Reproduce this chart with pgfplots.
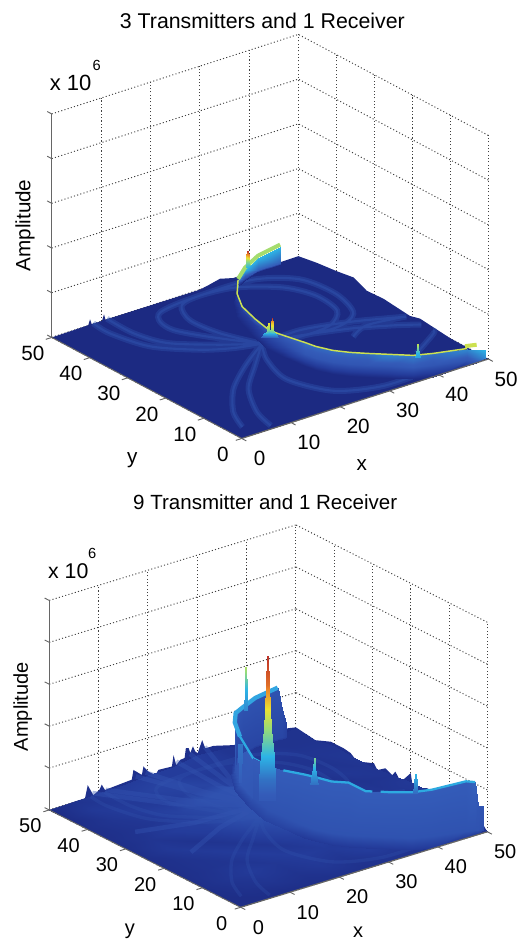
\documentclass[border=0pt]{standalone}
\usepackage{fontspec}
\setmainfont{Liberation Sans}
\usepackage{pgfplots}
\usepackage{pgfplotstable}
\pgfplotsset{compat=1.18}
\pgfplotstableread{
x y z
8.4 50 0.02
8.1 45.2 0.02
10.1 37.2 0.02
15.6 31.2 0.02
20.2 28.4 0.02
24.8 26.9 0.02
nan nan nan
11.2 50 0.02
11.1 42.9 0.02
13 36.6 0.02
18.9 31.1 0.02
24.8 26.9 0.02
nan nan nan
24.8 26.9 0.02
22 34.3 0.02
21.3 41.3 0.02
23.8 46.7 0.02
28.4 47.9 0.02
35 46.8 0.02
40.9 42.1 0.02
43.1 36.3 0.02
42.2 29.7 0.02
37.8 25.8 0.02
31.3 25.3 0.02
24.8 26.9 0.02
nan nan nan
24.8 26.9 0.02
19.6 34.6 0.02
16.9 39.9 0.02
17.2 43.8 0.02
19.5 46.7 0.02
25.9 47.8 0.02
38.6 47.6 0.02
44.9 43 0.02
46 34.8 0.02
43.5 27.1 0.02
37.5 24.5 0.02
24.8 26.9 0.02
nan nan nan
24.8 26.9 0.02
32.9 27.3 0.02
41.1 24.9 0.02
46.1 22.6 0.02
49.5 20.9 0.02
nan nan nan
24.8 26.9 0.02
30.5 26 0.02
39.6 22.8 0.02
45.8 19.5 0.02
49.5 17 0.02
nan nan nan
38 20 0.02
42.4 22.2 0.02
49.5 21 0.02
nan nan nan
42.1 8.6 0.02
48.9 13 0.02
49.5 14 0.02
nan nan nan
24.8 26.9 0.02
17.4 21.7 0.02
10.5 15.8 0.02
5 8.7 0.02
2.6 3.2 0.02
nan nan nan
24.8 26.9 0.02
18.6 20.7 0.02
12.4 14.3 0.02
8 6.4 0.02
6.5 0.8 0.02
nan nan nan
24.8 26.9 0.02
21.7 21.6 0.02
19.5 13.5 0.02
22.7 5.3 0.02
30.1 1.85 0.02
40.3 1.9 0.02
47 0.8 0.02
}\arcs
\pgfplotsset{
 colormap={ja}{rgb255(0cm)=(28,42,130); rgb255(1cm)=(36,60,155); rgb255(3cm)=(52,92,185); rgb255(5cm)=(45,180,230); rgb255(7cm)=(150,220,120); rgb255(9cm)=(235,225,50); rgb255(12cm)=(235,130,40); rgb255(14cm)=(190,50,40)},
 chart/.style={
  anchor=origin, colormap name=ja, point meta min=0, point meta max=14,
  xmin=0,xmax=50,ymin=0,ymax=50,zmin=0,zmax=5,
  xtick={0,10,20,30,40,50}, ytick={0,10,20,30,40,50}, ztick={0,1,2,3,4,5}, zticklabels={},
  grid=major, major grid style={black!75, line width=0.7pt, dash pattern=on 0.8pt off 1.7pt},
  axis line style={draw=none},
  tick style={draw=none},
  clip=false,
  /pgf/number format/assume math mode=true,
  xticklabel style={anchor=center,xshift=13.4pt,yshift=-15pt},
  yticklabel style={anchor=center,xshift=-14.2pt,yshift=-12pt},
 },
 wall/.style={surf, shader=interp, mesh/rows=3, point meta=explicit, z buffer=none},
 spike/.style={surf, shader=interp, mesh/cols=2, point meta=explicit, z buffer=none},
}
\newcommand\axisframe{%
\draw[black!60,line width=1.1pt] (axis cs:0,50,0) -- (axis cs:0,50,5);
\draw[black!60,line width=0.9pt] (axis cs:0,0,0) -- (axis cs:50,0,0);
\draw[black!60,line width=0.7pt] (axis cs:0,0,0) -- (axis cs:0,50,0);
\pgfplotsinvokeforeach{0,10,20,30,40,50}{
 \draw[black!60,line width=0.7pt] (axis cs:##1,0,0) -- (axis cs:##1,-1.2,0);
 \draw[black!60,line width=0.7pt] (axis cs:0,##1,0) -- (axis cs:-1.2,##1,0);}
\pgfplotsinvokeforeach{0,1,2,3,4,5}{
 \draw[black!60,line width=0.7pt] (axis cs:0,50,##1) -- (axis cs:0,51.2,##1);}
}
\begin{document}
\begin{tikzpicture}
\path[use as bounding box] (0,0) rectangle (390pt,705.75pt);
%% ---------- first chart
\begin{axis}[chart, at={(181.3pt,376.9pt)},
 x={(3.699pt,1.1925pt)}, y={(-2.85pt,1.515pt)}, z={(0pt,33.53pt)},
 tick label style={font=\fontsize{15.5}{18}\selectfont},
 title={3 Transmitters and 1 Receiver},
 title style={at={(axis cs:50,50,5)},anchor=center,xshift=-27pt,yshift=4pt,font=\fontsize{16}{19}\selectfont},
 xlabel={x}, xlabel style={at={(axis cs:0,0,0)},anchor=center,xshift=90pt,yshift=-20pt,font=\fontsize{15.5}{18}\selectfont},
 ylabel={y}, ylabel style={at={(axis cs:0,0,0)},anchor=center,xshift=-82pt,yshift=-16pt,font=\fontsize{15.5}{18}\selectfont},
 zlabel={Amplitude}, zlabel style={at={(axis cs:0,50,0)},anchor=center,xshift=84pt,yshift=20pt,font=\fontsize{15.5}{18}\selectfont},
]
\addplot3[draw=none, fill={rgb,255:red,28;green,42;blue,130}] coordinates {
(0,0,0) (50,0,0) (50,10,0.01) (50,18,0.09) (50,20.6,0.03) (50,27.6,0.1) (50,32,0.08) (50,35.5,0.22) (50,39.9,0.16) (50,45.2,0.11) (50,50,0.04)
(36.8,50,0.02) (34.1,50,0.1) (31.8,50,0.04) (30,50,0) (10.9,50,0.01) (10.6,50,0.14) (10.2,50,0.01) (8.1,50,0.01) (7.77,50,0.13) (7.4,50,0.01) (0,50,0) (0,0,0)};
\addplot3[smooth, unbounded coords=jump, no marks, line width=4.5pt, opacity=0.35, color={rgb,255:red,50;green,90;blue,180}] table[x=x,y=y,z=z]{\arcs};
\addplot3[smooth, unbounded coords=jump, no marks, line width=1.6pt, opacity=0.4, color={rgb,255:red,50;green,90;blue,180}] table[x=x,y=y,z=z]{\arcs};
\addplot3[wall] table[x=x,y=y,z=z,meta=c]{
x y z c
47.5 0 0 0
44.1 0 0 0
38.7 0 0 0
35.7 1.2 0 0
33 3.8 0 0
30.4 6.4 0 0
28.4 8.4 0 0
26.8 10.7 0 0
25.6 13.6 0 0
25.1 15.9 0 0
24.7 21.5 0 0
24.5 25.5 0 0
26 31.5 0 0
28 37.5 0 0
31 42.5 0 0
35 47 0 0
38 48.5 0 0
41.5 49.8 0 0
46 49.8 0 0
49.66 0.42 0.02 4
46.93 1.61 0.02 2.6
41.47 3.48 0.02 2.6
38.48 4.87 0.02 2.8
35.82 7.45 0.02 2.6
33.15 10.04 0.02 2.6
31.24 12.04 0.02 2.6
29.56 14.34 0.02 2.6
28.35 17.24 0.02 2.6
27.9 19.55 0.02 2.6
27.48 24.26 0.02 2
27.22 27.87 0.02 1.6
28.37 33.31 0.02 1
30 38.84 0.02 1
32.64 43.59 0.02 1
36.03 47.73 0.02 1
38.3 48.85 0.02 2
41.8 50 0.02 3
46.3 50 0.02 3
49.66 0.42 0.2 5
46.93 1.61 0.27 4
41.47 3.48 0.27 3.5
38.48 4.87 0.27 3.8
35.82 7.45 0.27 4
33.15 10.04 0.27 3.4
31.24 12.04 0.27 3.4
29.56 14.34 0.27 3.4
28.35 17.24 0.27 3.4
27.9 19.55 0.27 3.4
27.48 24.26 0.22 3
27.22 27.87 0.18 3
28.37 33.31 0.16 3
30 38.84 0.13 3
32.64 43.59 0.11 3
36.03 47.73 0.11 4
38.3 48.85 0.2 5
41.8 50 0.29 5
46.3 50 0.38 5
};
\addplot3[no marks, line width=1.1pt, color={rgb,255:red,205;green,225;blue,80}] coordinates {
(46.93,1.61,0.27) (41.47,3.48,0.27) (38.48,4.87,0.27) (35.82,7.45,0.27) (33.15,10.04,0.27) (31.24,12.04,0.27) (29.56,14.34,0.27) (28.35,17.24,0.27) (27.9,19.55,0.27) (27.48,24.26,0.22) (27.22,27.87,0.18) (28.37,33.31,0.16) (30,38.84,0.13) (32.64,43.59,0.11) (36.03,47.73,0.11)};
\addplot3[no marks, line width=3pt, color={rgb,255:red,165;green,220;blue,110}] coordinates {
(36.03,47.73,0.13) (38.3,48.85,0.25) (41.8,50,0.34) (46.3,50,0.43)};
\addplot3[no marks, line width=3pt, color={rgb,255:red,205;green,225;blue,80}] coordinates {(46.6,1.7,0.33) (48.4,1,0.33)};
\addplot3[spike] table[x=x,y=y,z=z,meta=c]{
x y z c
39.0 49.5 0.2 5
39.4 49.2 0.2 5
39.05 49.45 0.35 7
39.35 49.25 0.35 7
39.05 49.45 0.45 10
39.35 49.25 0.45 11
39.15 49.4 0.57 14
39.25 49.3 0.57 14
};
\addplot3[spike] table[x=x,y=y,z=z,meta=c]{
x y z c
26.1 28.8 0.03 3
28.3 27 0.03 3
26.5 28.45 0.12 5
27.9 27.35 0.12 5
};
\addplot3[spike] table[x=x,y=y,z=z,meta=c]{
x y z c
26.7 28.25 0.12 5
27.3 27.85 0.12 5
26.85 28.15 0.25 7.5
27.15 27.95 0.25 7.5
26.95 28.08 0.36 9
27.05 28 0.36 9
};
\addplot3[spike] table[x=x,y=y,z=z,meta=c]{
x y z c
27.15 27.95 0.12 5
27.75 27.45 0.12 5
27.3 27.8 0.25 8
27.6 27.6 0.25 8
27.35 27.75 0.36 10
27.55 27.65 0.36 10
27.42 27.7 0.46 14
27.48 27.65 0.46 14
};
\addplot3[spike] table[x=x,y=y,z=z,meta=c]{
x y z c
38.85 4.9 0.2 4.5
39.55 4.3 0.2 4.5
39 4.75 0.3 5
39.4 4.45 0.3 5
39.1 4.7 0.42 6.5
39.3 4.5 0.42 6.5
39.16 4.63 0.5 8
39.24 4.57 0.5 8
};
\axisframe
\end{axis}
\node[font=\fontsize{16.5}{18}\selectfont] at (53pt,643.2pt) {x 10};
\node[font=\fontsize{11}{13}\selectfont] at (72.5pt,657pt) {6};
%% ---------- second chart
\begin{axis}[chart, at={(180.5pt,25.3pt)},
 x={(3.699pt,1.1325pt)}, y={(-2.871pt,1.4595pt)}, z={(0pt,31.43pt)},
 tick label style={font=\fontsize{15}{18}\selectfont},
 title={9 Transmitter and 1 Receiver},
 title style={at={(axis cs:50,50,5)},anchor=center,xshift=-23pt,yshift=11pt,font=\fontsize{15.4}{19}\selectfont},
 xlabel={x}, xlabel style={at={(axis cs:0,0,0)},anchor=center,xshift=88pt,yshift=-18.5pt,font=\fontsize{15}{18}\selectfont},
 ylabel={y}, ylabel style={at={(axis cs:0,0,0)},anchor=center,xshift=-83pt,yshift=-18pt,font=\fontsize{15}{18}\selectfont},
 zlabel={Amplitude}, zlabel style={at={(axis cs:0,50,0)},anchor=center,xshift=77.5pt,yshift=20pt,font=\fontsize{15}{18}\selectfont},
]
\addplot3[draw=none, fill={rgb,255:red,30;green,48;blue,140}] coordinates {
(0,0,0) (50,0,0) (50,0.9,0.1) (50,3,0.3) (50,10,0.3) (50,15.7,0.31) (50,17.9,0.21) (50,19.6,0.25) (50,20,0.47) (50,22.6,0.14) (50,24,0.32) (50,24.8,0.2) (50,26.6,0.28) (50,28.7,0.14) (50,29.6,0.26) (50,34,0.1) (50,35.7,0.22) (50,37.5,0.25) (50,40.9,0.25) (50,44.9,0.1) (50,50,0.17)
(48.2,50,0.21) (37.4,50,0.2) (33.3,50,0.33) (31.64,50,0.33) (31,50,0.55) (30.1,50,0.27) (29.6,50,0.33) (29.13,50,0.47) (28.6,50,0.33) (28.25,50,0.46) (27.7,50,0.48) (27.44,50,0.25) (26.56,50,0.24) (25.75,50,0.14) (25.2,50,0.4) (24.86,50,0.14) (22.15,50,0.16) (21.5,50,0.06) (20.1,50,0.19) (19.1,50,0.35) (18.77,50,0.16) (17.07,50,0.34) (16.73,50,0.12) (11.3,50,0.07) (10.64,50,0.22) (10.16,50,0.11) (8.94,50,0.03) (7.8,50,0.31) (7.25,50,0.02) (0,50,0) (0,0,0)};
\addplot3[surf, shader=interp, mesh/rows=11, point meta=explicit] table[x=x,y=y,z=z,meta=c]{
x y z c
0 0 0.02 0.2
0 5 0.02 0.2
0 10 0.02 0.3
0 15 0.02 0.3
0 20 0.02 0.3
0 25 0.02 0.3
0 30 0.02 0.3
0 35 0.02 0.3
0 40 0.02 0.3
0 45 0.02 0.2
0 50 0.01 0.1
5 0 0.03 0.2
5 5 0.03 0.4
5 10 0.03 0.6
5 15 0.04 0.5
5 20 0.04 0.5
5 25 0.05 0.8
5 30 0.05 0.6
5 35 0.04 0.5
5 40 0.04 0.6
5 45 0.04 0.8
5 50 0.01 0.5
10 0 0.03 0.2
10 5 0.04 0.6
10 10 0.05 0.9
10 15 0.05 0.6
10 20 0.06 0.9
10 25 0.05 0.5
10 30 0.06 1
10 35 0.06 0.7
10 40 0.07 1
10 45 0.07 0.8
10 50 0.05 0.9
15 0 0.03 0.3
15 5 0.04 0.5
15 10 0.05 0.7
15 15 0.06 1
15 20 0.06 0.6
15 25 0.07 1
15 30 0.09 1.2
15 35 0.1 1.4
15 40 0.08 0.9
15 45 0.09 1.3
15 50 0.05 0.9
20 0 0.03 0.4
20 5 0.05 0.8
20 10 0.06 1
20 15 0.06 0.7
20 20 0.08 1.2
20 25 0.25 2.2
20 30 0.25 2
20 35 0.25 2.2
20 40 0.12 1.2
20 45 0.14 1.5
20 50 0.12 1
25 0 0.03 0.4
25 5 0.05 0.6
25 10 0.06 0.9
25 15 0.08 1.2
25 20 0.35 2.4
25 25 0.35 2.5
25 30 0.35 2.4
25 35 0.35 2.4
25 40 0.16 1.5
25 45 0.14 1
25 50 0.12 1
30 0 0.04 0.5
30 5 0.06 1
30 10 0.08 0.8
30 15 0.14 1.3
30 20 0.16 1
30 25 0.18 1.1
30 30 0.18 0.8
30 35 0.18 0.9
30 40 0.2 0.7
30 45 0.2 0.9
30 50 0.22 1
35 0 0.04 0.5
35 5 0.08 0.9
35 10 0.16 1.2
35 15 0.2 0.9
35 20 0.2 0.6
35 25 0.2 0.5
35 30 0.2 0.6
35 35 0.2 0.4
35 40 0.2 0.7
35 45 0.2 0.6
35 50 0.2 0.6
40 0 0.04 0.6
40 5 0.14 1
40 10 0.22 1.2
40 15 0.24 0.6
40 20 0.24 0.5
40 25 0.22 0.7
40 30 0.2 0.4
40 35 0.2 0.6
40 40 0.2 0.5
40 45 0.18 0.7
40 50 0.15 0.5
45 0 0.04 0.7
45 5 0.18 1.3
45 10 0.24 0.7
45 15 0.26 0.7
45 20 0.26 0.6
45 25 0.22 0.5
45 30 0.18 0.7
45 35 0.18 0.5
45 40 0.2 0.6
45 45 0.12 0.5
45 50 0.1 0.5
50 0 0.03 0.5
50 5 0.1 0.9
50 10 0.25 0.8
50 15 0.25 0.7
50 20 0.25 0.8
50 25 0.2 0.6
50 30 0.15 0.6
50 35 0.15 0.7
50 40 0.2 0.6
50 45 0.1 0.5
50 50 0.15 0.5
};
\addplot3[smooth, unbounded coords=jump, no marks, line width=2.5pt, opacity=0.28, color={rgb,255:red,50;green,85;blue,175}] table[x=x,y=y,z=z]{\arcs};
% streaks rising towards the far edge
\addplot3[unbounded coords=jump, no marks, line width=3.4pt, opacity=0.4, color={rgb,255:red,52;green,85;blue,178}] coordinates {
(24.8,26.9,0.3) (16,38,0.12) (8.2,49.3,0.14) (nan,nan,nan)
(24.8,26.9,0.3) (18,38,0.14) (10.9,49.3,0.12) (nan,nan,nan)
(24.8,26.9,0.3) (21,38,0.2) (17,49.3,0.22) (nan,nan,nan)
(24.8,26.9,0.3) (22,38,0.2) (19,49.3,0.24) (nan,nan,nan)
(24.8,26.9,0.3) (25,38,0.24) (25.2,49.3,0.28) (nan,nan,nan)
(24.8,26.9,0.3) (26.5,38,0.3) (28,49.3,0.36) (nan,nan,nan)
(24.8,26.9,0.3) (27.5,38,0.3) (31,49.3,0.42) (nan,nan,nan)
(24.8,26.9,0.3) (14,30,0.12) (5,34,0.04) (nan,nan,nan)
(24.8,26.9,0.3) (16,26,0.12) (7,22,0.04)
};
% far part of the ridge wall
\addplot3[wall] table[x=x,y=y,z=z,meta=c]{
x y z c
24.5 25.5 0.02 1.2
26 31.5 0.02 1.2
28 37.5 0.02 1.2
31 42.5 0.02 1.2
35 47 0.02 1
38 48.5 0.02 1
41.5 49.8 0.02 1
46 49.8 0.02 1
47 49.8 0.02 1
48 49.8 0.02 1
27.22 27.87 0.05 2.2
28.37 33.31 0.05 2.6
30 38.84 0.05 2.8
32.64 43.59 0.05 2.4
36.03 47.73 0.05 1.6
38.3 48.85 0.05 1.6
41.8 50 0.05 1.6
46.3 50 0.05 1.6
47.2 50 0.05 1.6
48.2 50 0.05 1.2
27.22 27.87 1.09 3
28.37 33.31 0.99 3
30 38.84 1.19 3
32.64 43.59 1.21 3
36.03 47.73 1.12 2.6
38.3 48.85 1.12 2.4
41.8 50 1.17 2.4
46.3 50 1.25 2.4
47.2 50 0.7 2
48.2 50 0.25 1.2
};
\addplot3[no marks, line width=1.7pt, color={rgb,255:red,45;green,170;blue,225}] coordinates {
(27.22,27.87,1.09) (28.37,33.31,0.99) (30,38.84,1.19)};
\addplot3[no marks, line width=3.2pt, color={rgb,255:red,50;green,165;blue,225}] coordinates {
(30,38.84,1.19) (32.64,43.59,1.21) (36.03,47.73,1.12) (38.3,48.85,1.12) (41.8,50,1.17) (46.3,50,1.25)};
\addplot3[spike] table[x=x,y=y,z=z,meta=c]{
x y z c
38.95 49.4 1 4
39.45 49 1 4
39.1 49.3 1.5 5
39.3 49.1 1.5 5
39.17 49.22 2.03 7.5
39.23 49.18 2.03 7.5
};
% near part of the ridge wall
\addplot3[wall] table[x=x,y=y,z=z,meta=c]{
x y z c
47.5 0 0.02 0.8
47.5 0 0.02 0.8
47.5 0 0.02 0.8
44.1 0 0.02 0.8
38.7 0 0.02 0.8
35.7 1.2 0.02 0.8
33 3.8 0.02 0.8
30.4 6.4 0.02 0.8
28.4 8.4 0.02 0.8
26.8 10.7 0.02 0.8
25.6 13.6 0.02 0.8
25.1 15.9 0.02 0.8
24.7 21.5 0.02 1.4
24.5 25.5 0.02 1.4
26 31.5 0.02 1.4
49.66 0.42 0.05 2
48.7 0.8 0.05 2.4
48.3 1 0.05 2.4
46.93 1.61 0.05 2.4
41.47 3.48 0.05 2.4
38.48 4.87 0.05 2.4
35.82 7.45 0.05 2.4
33.15 10.04 0.05 2.4
31.24 12.04 0.05 2.4
29.56 14.34 0.05 2.4
28.35 17.24 0.05 2.4
27.9 19.55 0.05 2.4
27.48 24.26 0.05 2.4
27.22 27.87 0.05 2.4
28.37 33.31 0.05 2.4
49.66 0.42 0.6 2.4
48.7 0.8 0.65 2.6
48.3 1 1.2 3.2
46.93 1.61 1.24 3
41.47 3.48 1.15 3
38.48 4.87 1.13 3
35.82 7.45 1.11 3
33.15 10.04 1.11 3
31.24 12.04 1.29 3
29.56 14.34 1.27 3
28.35 17.24 1.29 3
27.9 19.55 1.26 3
27.48 24.26 1.15 3
27.22 27.87 1.09 3
28.37 33.31 0.99 3
};
\addplot3[unbounded coords=jump, no marks, line width=1.7pt, color={rgb,255:red,45;green,170;blue,225}] coordinates {
(48.3,1,1.2) (46.93,1.61,1.24) (41.47,3.48,1.15) (38.48,4.87,1.13) (35.82,7.45,1.11) (34.9,8.4,1.11) (nan,nan,nan) (33.9,9.3,1.11) (33.15,10.04,1.11) (31.24,12.04,1.29) (29.56,14.34,1.27) (28.35,17.24,1.29) (27.9,19.55,1.26) (27.48,24.26,1.15)};
\addplot3[spike] table[x=x,y=y,z=z,meta=c]{
x y z c
29.9 39 0.1 3
30.2 38.7 0.1 3
29.8 39.1 1 3.6
30.3 38.6 1 3.6
};
\addplot3[spike] table[x=x,y=y,z=z,meta=c]{
x y z c
25.8 28.55 0.3 2.8
28 26.85 0.3 2.8
25.9 28.5 0.8 3.5
27.9 26.9 0.8 3.5
26.1 28.35 1.36 5
27.7 27.05 1.36 5
26.5 28.02 2 7
27.3 27.38 2 7
26.62 27.92 2.48 9
27.18 27.48 2.48 9
26.73 27.84 3.04 12.5
27.07 27.56 3.04 12.5
26.86 27.73 3.74 14
26.94 27.67 3.74 14
};
\addplot3[spike] table[x=x,y=y,z=z,meta=c]{
x y z c
27.8 17.7 1.1 3.4
28.8 16.9 1.1 3.4
28.2 17.4 1.5 5
28.5 17.2 1.5 5
28.32 17.28 1.74 6.5
28.38 17.22 1.74 6.5
};
\addplot3[spike] table[x=x,y=y,z=z,meta=c]{
x y z c
38.7 4.8 1.1 3.4
39.3 4.4 1.1 3.4
38.95 4.65 1.56 5
39.05 4.55 1.56 5
};
\axisframe
\end{axis}
\node[font=\fontsize{16}{18}\selectfont] at (51.2pt,277.7pt) {x 10};
\node[font=\fontsize{11}{13}\selectfont] at (69.2pt,290.7pt) {6};
\end{tikzpicture}
\end{document}
